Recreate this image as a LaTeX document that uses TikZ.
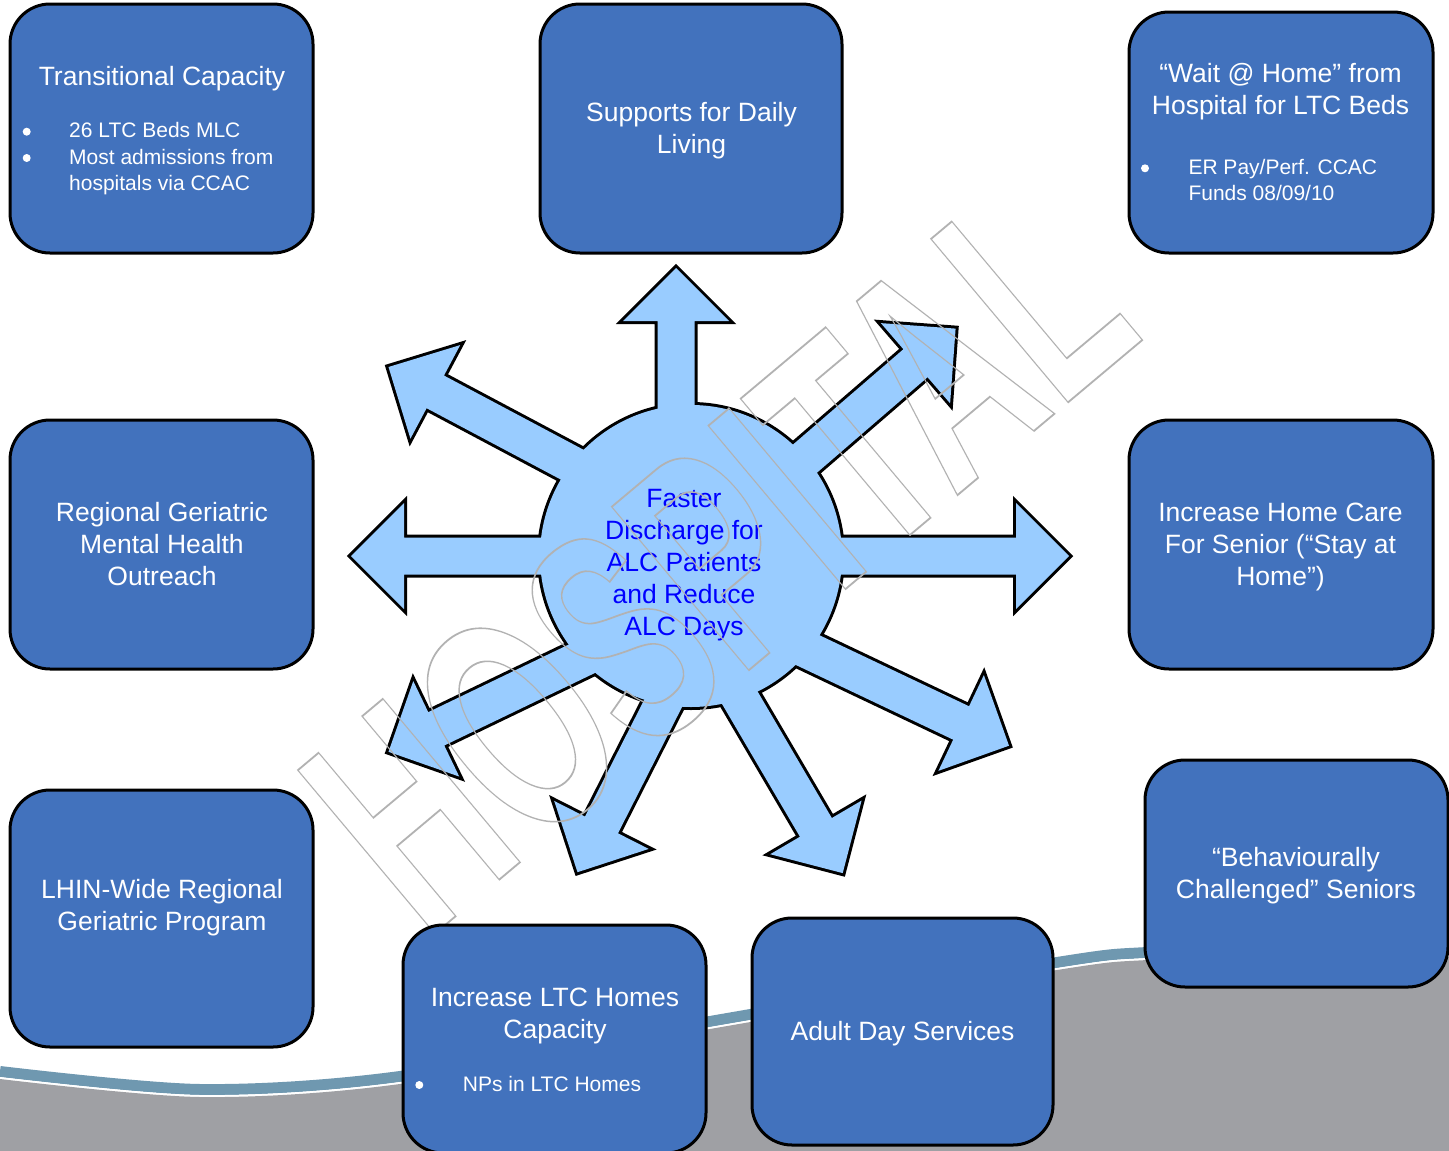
\documentclass[tikz,border=0pt]{standalone}
\usepackage{fontspec}
\setmainfont{Liberation Sans}
\usetikzlibrary{calc}
\definecolor{boxblue}{RGB}{66,114,189}
\definecolor{arrowblue}{RGB}{153,204,255}
\definecolor{bggray}{RGB}{159,160,164}
\definecolor{bandblue}{RGB}{111,152,176}
\definecolor{wmgray}{RGB}{178,178,178}
\definecolor{centerblue}{RGB}{0,0,255}
\newcommand\lines[2]{\begin{tabular}[t]{@{}#1@{}}#2\end{tabular}}
\newcommand\outlinetext[1]{\special{pdf:literal direct q 1 Tr 1.8 w}#1\special{pdf:literal direct Q}}
% arrow polygon: #1 tip coordinate, #2 direction angle (image coords), #3 length
\newcommand\arw[3]{($(#1)+(#2:-#3)+(#2+90:18.5)$) -- ($(#1)+(#2:-53)+(#2+90:18.5)$) -- ($(#1)+(#2:-53)+(#2+90:53)$) -- (#1) -- ($(#1)+(#2:-53)+(#2-90:53)$) -- ($(#1)+(#2:-53)+(#2-90:18.5)$) -- ($(#1)+(#2:-#3)+(#2-90:18.5)$) -- cycle}
\newcommand\hubshapes[1]{%
  \path[#1] (C) circle[radius=151pt];
  \path[#1] \arw{tU}{-90}{260};
  \path[#1] \arw{tL}{180}{300};
  \path[#1] \arw{tR}{0}{340};
  \path[#1] \arw{tUL}{-152}{320};
  \path[#1] \arw{tUR}{-40.8}{320};
  \path[#1] \arw{tLR}{25.4}{330};
  \path[#1] \arw{tLL}{154.3}{320};
  \path[#1] \arw{tDL}{116.9}{300};
  \path[#1] \arw{tDR}{59.6}{300};
}
\newcommand\wavepts{(0,1079) (200,1097) (400,1084) (710,1029) (1057,970) (1147,960) (1300,955) (1449,957)}
\tikzset{
  box/.style={draw=black, line width=3pt, fill=boxblue, rounded corners=40pt, inner sep=0pt},
  maintext/.style={text=white, font=\fontsize{26.5}{32}\selectfont, inner sep=0pt, anchor=base},
  smalltext/.style={text=white, font=\fontsize{21}{26.3}\selectfont, inner sep=0pt, anchor=base west},
  bulletdot/.style={circle, fill=white, inner sep=0pt, minimum size=8pt},
  hubline/.style={draw=black, line width=6pt, miter limit=10},
  hubfill/.style={fill=arrowblue},
}
\begin{document}
\begin{tikzpicture}[x=1pt, y=-1pt]
\useasboundingbox[fill=white] (0,0) rectangle (1449,1151);
% background wave
\draw[bandblue, line width=11pt, yshift=7.5pt] plot[smooth] coordinates {\wavepts};
\draw[white, line width=2pt, yshift=1pt] plot[smooth] coordinates {\wavepts};
\fill[bggray] plot[smooth] coordinates {\wavepts} -- (1449,1151) -- (0,1151) -- cycle;
% hub
\coordinate (C) at (691,556);
\coordinate (tU) at (676,268);
\coordinate (tL) at (351,556);
\coordinate (tR) at (1069,556);
\coordinate (tUL) at (388.5,367);
\coordinate (tUR) at (955.6,328.6);
\coordinate (tLR) at (1009,745.7);
\coordinate (tLL) at (388.5,751.8);
\coordinate (tDL) at (577.5,872.2);
\coordinate (tDR) at (842.7,873.1);
\hubshapes{hubline}
\hubshapes{hubfill}
\node[text=centerblue, font=\fontsize{26.5}{32}\selectfont, inner sep=0pt, anchor=base] (ctext) at (684,507)
  {\lines{c}{Faster\\Discharge for\\ALC Patients\\and Reduce\\ALC Days}};
% watermark
\node[anchor=base, rotate=40, xscale=0.61, inner sep=0pt, text=wmgray, font=\fontsize{310}{310}\selectfont\bfseries] (wm) at (786,639)
  {\outlinetext{HOSPITAL}};
% boxes
\node[box, minimum width=303pt, minimum height=249pt] (b1) at (161.5,128.5) {};
\node[box, minimum width=302pt, minimum height=249pt] (b2) at (691,128.5) {};
\node[box, minimum width=304pt, minimum height=241pt] (b3) at (1281,132.5) {};
\node[box, minimum width=303pt, minimum height=249pt] (b4) at (161.5,544.5) {};
\node[box, minimum width=304pt, minimum height=249pt] (b5) at (1281,544.5) {};
\node[box, minimum width=303pt, minimum height=257pt] (b6) at (161.5,918.5) {};
\node[box, minimum width=303pt, minimum height=228pt] (b7) at (554.5,1039) {};
\node[box, minimum width=301pt, minimum height=227pt] (b8) at (902.5,1031.5) {};
\node[box, minimum width=303pt, minimum height=227pt] (b9) at (1296.5,873.5) {};
% texts
\node[maintext] (t1) at (162,85) {Transitional Capacity};
\node[smalltext] (t1b) at (69,137.7) {\lines{l}{26 LTC Beds MLC\\Most admissions from\\hospitals via CCAC}};
\node[bulletdot] (d1a) at (26.7,131.7) {};
\node[bulletdot] (d1b) at (26.7,158) {};
\node[maintext] (t2) at (691.5,121.5) {\lines{c}{Supports for Daily\\Living}};
\node[maintext] (t3) at (1280.5,82) {\lines{c}{“Wait @ Home” from\\Hospital for LTC Beds}};
\node[smalltext] (t3b) at (1188.3,174.3) {\lines{l}{ER Pay/Perf. CCAC\\Funds 08/09/10}};
\node[bulletdot] (d3) at (1145,168.3) {};
\node[maintext] (t4) at (162,521.5) {\lines{c}{Regional Geriatric\\Mental Health\\Outreach}};
\node[maintext] (t5) at (1280.5,521.5) {\lines{c}{Increase Home Care\\For Senior (“Stay at\\Home”)}};
\node[maintext] (t6) at (162,898) {\lines{c}{LHIN-Wide Regional\\Geriatric Program}};
\node[maintext] (t7) at (555,1006) {\lines{c}{Increase LTC Homes\\Capacity}};
\node[smalltext] (t7b) at (462.7,1091) {NPs in LTC Homes};
\node[bulletdot] (d7) at (419.3,1085) {};
\node[maintext] (t8) at (902.5,1040) {Adult Day Services};
\node[maintext] (t9) at (1296,866) {\lines{c}{“Behaviourally\\Challenged” Seniors}};
\end{tikzpicture}
\end{document}
